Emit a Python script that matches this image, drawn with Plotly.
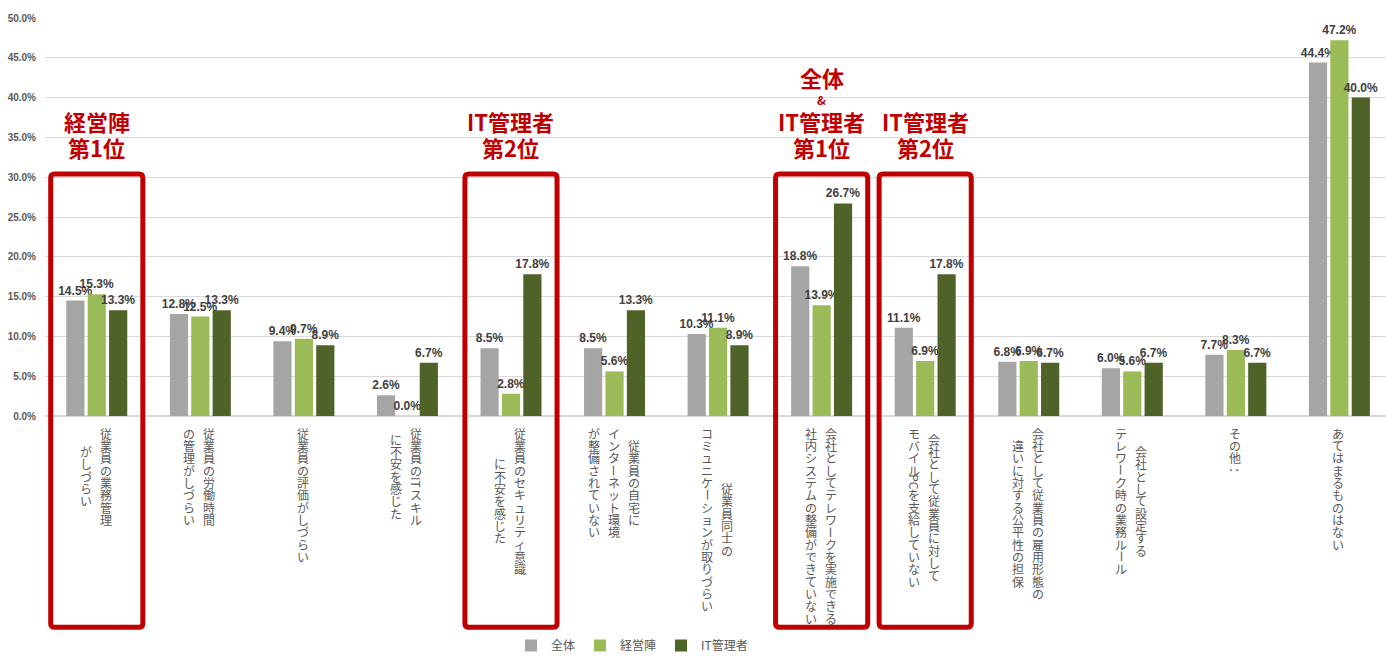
import re
import plotly.graph_objects as go

# Survey items (line breaks separate the vertical columns, right to left)
categories = [
    "従業員の業務管理\nがしづらい",
    "従業員の労働時間\nの管理がしづらい",
    "従業員の評価がしづらい",
    "従業員のITスキル\nに不安を感じた",
    "従業員のセキュリティ意識\nに不安を感じた",
    "従業員の自宅に\nインターネット環境\nが整備されていない",
    "従業員同士の\nコミュニケーションが取りづらい",
    "会社としてテレワークを実施できる\n社内システムの整備ができていない",
    "会社として従業員に対して\nモバイルPCを支給していない",
    "会社として従業員の雇用形態の\n違いに対する公平性の担保",
    "会社として設定する\nテレワーク時の業務ルール",
    "その他：",
    "あてはまるものはない",
]

series_names = ["全体", "経営陣", "IT管理者"]
values_all = [14.5, 12.8, 9.4, 2.6, 8.5, 8.5, 10.3, 18.8, 11.1, 6.8, 6.0, 7.7, 44.4]
values_exec = [15.3, 12.5, 9.7, 0.0, 2.8, 5.6, 11.1, 13.9, 6.9, 6.9, 5.6, 8.3, 47.2]
values_it = [13.3, 13.3, 8.9, 6.7, 17.8, 13.3, 8.9, 26.7, 17.8, 6.7, 6.7, 6.7, 40.0]

# Highlighted items: (category index, heading lines)
highlights = [
    (0, ["経営陣", "第1位"]),
    (4, ["IT管理者", "第2位"]),
    (7, ["全体", "&", "IT管理者", "第1位"]),
    (8, ["IT管理者", "第2位"]),
]

colors = ["#A5A5A5", "#9BBB59", "#4F6228"]
RED = "#C00000"
NUM_FONT = "Liberation Sans, Arial, sans-serif"
JP_FONT = "Noto Sans CJK JP, Noto Sans, sans-serif"

# Plot-area geometry in pixels (used to place text below the axis)
W, H = 1386, 660
PLOT_TOP, PLOT_BOTTOM = 18, 421
PLOT_LEFT, PLOT_RIGHT = 45, 1386
X_RANGE = [-0.5, 12.45]


def paper_y(py):
    return (PLOT_BOTTOM - py) / (PLOT_BOTTOM - PLOT_TOP)


def paper_x_px(px):
    return (px - PLOT_LEFT) / (PLOT_RIGHT - PLOT_LEFT)


def px_of_x(xv):
    return PLOT_LEFT + (xv - X_RANGE[0]) / (X_RANGE[1] - X_RANGE[0]) * (PLOT_RIGHT - PLOT_LEFT)


def paper_x(xv):
    return paper_x_px(px_of_x(xv))


fig = go.Figure()
for name, vals, col in zip(series_names, [values_all, values_exec, values_it], colors):
    fig.add_trace(go.Bar(
        name=name,
        x=list(range(len(categories))),
        y=vals,
        marker=dict(color=col, line=dict(width=0)),
        text=vals,
        texttemplate="%{y:.1f}%",
        textposition="outside",
        cliponaxis=False,
        constraintext="none",
        textfont=dict(family=NUM_FONT, size=12, color="#404040", weight="bold"),
    ))

annotations = []

# Vertical (top-to-bottom) category labels, columns read right to left
PITCH = 12.5
LABEL_TOP = 432
COL_GAP = 20


def tokens_of(line):
    return re.findall(r"[A-Za-z]+|.", line)


for idx, label in enumerate(categories):
    cols = [tokens_of(c) for c in label.split("\n")]
    maxlen = max(len(c) for c in cols)
    center = LABEL_TOP + maxlen * PITCH / 2
    ncol = len(cols)
    for j, toks in enumerate(cols):
        xoff = ((ncol - 1) / 2 - j) * COL_GAP - 1
        start = center - len(toks) * PITCH / 2
        for i, t in enumerate(toks):
            rotate = t.isascii() or t in ("ー", "：")
            annotations.append(dict(
                x=idx, xref="x", y=paper_y(start + (i + 0.5) * PITCH), yref="paper",
                text=t, showarrow=False, xshift=xoff,
                xanchor="center", yanchor="middle", borderpad=0,
                textangle=90 if rotate else 0,
                font=dict(family=JP_FONT, size=12, color="#595959"),
            ))

# Red headings above the highlighted groups
line_y = {2: [122, 149], 4: [78, 101, 122, 149]}
for idx, lines in highlights:
    ys = line_y[len(lines)]
    for txt, py in zip(lines, ys):
        small = txt == "&"
        annotations.append(dict(
            x=idx, xref="x", y=paper_y(py), yref="paper",
            text=f"<b>{txt}</b>", showarrow=False,
            xanchor="center", yanchor="middle",
            font=dict(family=JP_FONT, size=12 if small else 22, color=RED),
        ))


def rounded_rect(x0, x1, y0, y1, r=4):
    # x and y in pixels (top < bottom); returns a path in paper coordinates
    def P(px, py):
        return f"{paper_x_px(px):.5f},{paper_y(py):.5f}"
    return (
        f"M {P(x0 + r, y0)} L {P(x1 - r, y0)} Q {P(x1, y0)} {P(x1, y0 + r)} "
        f"L {P(x1, y1 - r)} Q {P(x1, y1)} {P(x1 - r, y1)} "
        f"L {P(x0 + r, y1)} Q {P(x0, y1)} {P(x0, y1 - r)} "
        f"L {P(x0, y0 + r)} Q {P(x0, y0)} {P(x0 + r, y0)} Z"
    )


shapes = []
for idx, _ in highlights:
    shapes.append(dict(
        type="path", xref="paper", yref="paper",
        path=rounded_rect(px_of_x(idx - 0.445), px_of_x(idx + 0.445), 176, 635),
        line=dict(color=RED, width=5), fillcolor="rgba(0,0,0,0)",
        layer="above",
    ))

fig.update_layout(
    width=W, height=H,
    margin=dict(l=PLOT_LEFT, r=W - PLOT_RIGHT, t=PLOT_TOP, b=H - PLOT_BOTTOM),
    paper_bgcolor="white", plot_bgcolor="white",
    barmode="group", bargap=0.38, bargroupgap=0.15,
    font=dict(family=JP_FONT, color="#595959"),
    xaxis=dict(
        range=X_RANGE, showticklabels=False, showgrid=False,
        showline=True, linecolor="#D9D9D9", linewidth=1, ticks="", zeroline=False,
    ),
    yaxis=dict(
        range=[0, 50], dtick=5, tickformat=".1f", ticksuffix="%",
        showgrid=True, gridcolor="#D9D9D9", gridwidth=1,
        zeroline=True, zerolinecolor="#D9D9D9", showline=False,
        tickfont=dict(family=NUM_FONT, size=10, color="#595959", weight="bold"),
        ticklabelstandoff=8,
    ),
    legend=dict(
        orientation="h", x=paper_x_px(632), xanchor="center",
        y=paper_y(654), yanchor="middle",
        font=dict(family=JP_FONT, size=12, color="#595959"),
        itemwidth=30, tracegroupgap=0,
    ),
    annotations=annotations,
    shapes=shapes,
)

fig.write_html("out.html")
